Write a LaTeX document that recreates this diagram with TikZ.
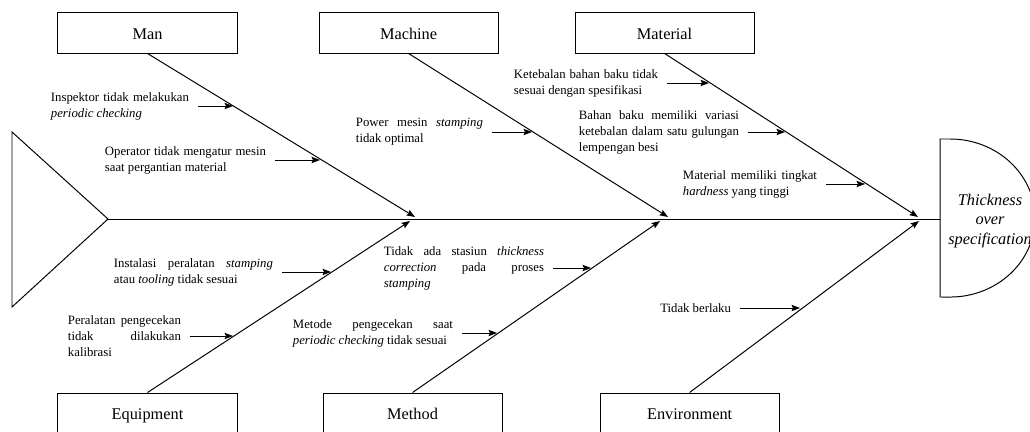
\documentclass[tikz,border=0pt]{standalone}
\usepackage{fontspec}
\setmainfont{Liberation Serif}
\usetikzlibrary{positioning, arrows.meta}

\begin{document}
\begin{tikzpicture}[
    x=0.025cm, y=-0.025cm,
    >={Stealth[length=6pt, width=4.5pt, inset=1pt]},
    line width=0.7pt,
    category/.style={
        draw,
        minimum width=4.475cm,
        minimum height=1cm,
        inner sep=0pt,
        text height=9.8pt,
        text depth=0.7pt,
        font=\fontsize{11.6}{14}\selectfont
    },
    cause/.style={
        align=justify,
        inner sep=0pt,
        outer sep=6.4pt,
        font=\fontsize{9.07}{11.4}\selectfont
    },
    effecttext/.style={
        align=center,
        font=\fontsize{11.6}{13.9}\selectfont\itshape
    }
]
\useasboundingbox (0,0) rectangle (1030,432);
\clip (0,0) rectangle (1030,432);

% categories
\node[category] (man) at (147.5,33) {Man};
\node[category, right=2.025cm of man] (machine) {Machine};
\node[category, right=1.9cm of machine] (material) {Material};
\node[category] (equipment) at (147.5,413) {Equipment};
\node[category, right=2.125cm of equipment] (method) {Method};
\node[category, right=2.425cm of method] (environment) {Environment};

% spine, tail and head
\coordinate (tail) at (108,219);
\coordinate (head) at (940,219);
\draw (12,132) -- (tail) -- (12,307) -- cycle;
\draw (tail) -- (head);
\draw (940,297) -- (940,139) -- (950,139)
    arc[start angle=90, end angle=-90, x radius=2.125cm, y radius=1.975cm] -- cycle;
\node[effecttext] (effect) at (990,221) {Thickness\\over\\specification};

% bones
\coordinate (manhit) at (415,217);
\coordinate (machinehit) at (668,217);
\coordinate (materialhit) at (918,217);
\coordinate (equipmenthit) at (410,221);
\coordinate (methodhit) at (660,221);
\coordinate (environmenthit) at (919,221);
\draw[->] (man.south) -- (manhit);
\draw[->] (machine.south) -- (machinehit);
\draw[->] (material.south) -- (materialhit);
\draw[->] (equipment.north) -- (equipmenthit);
\draw[->] (method.north) -- (methodhit);
\draw[->] (environment.north) -- (environmenthit);

% causes
\coordinate (man1e) at (233,106);
\coordinate (man2e) at (320,160);
\coordinate (mach1e) at (532,132);
\coordinate (mat1e) at (709,83);
\coordinate (mat2e) at (785,132);
\coordinate (mat3e) at (865,184);
\coordinate (equip1e) at (331,272);
\coordinate (equip2e) at (233,336);
\coordinate (meth1e) at (591,268);
\coordinate (meth2e) at (497,333);
\coordinate (env1e) at (800,308);

\node[cause, text width=3.45cm, left=0.875cm of man1e] (man1)
    {Inspektor tidak melakukan\linebreak \textit{periodic checking}};
\node[cause, text width=4.025cm, left=1.125cm of man2e] (man2)
    {Operator tidak mengatur mesin\linebreak saat pergantian material};
\node[cause, text width=3.175cm, left=1cm of mach1e] (mach1)
    {Power mesin \textit{stamping}\linebreak tidak optimal};
\node[cause, text width=3.6cm, left=1.05cm of mat1e] (mat1)
    {Ketebalan bahan baku tidak\linebreak sesuai dengan spesifikasi};
\node[cause, text width=4cm, left=0.925cm of mat2e] (mat2)
    {Bahan baku memiliki variasi\linebreak ketebalan dalam satu gulungan\linebreak lempengan besi};
\node[cause, text width=3.35cm, left=0.975cm of mat3e] (mat3)
    {Material memiliki tingkat\linebreak \textit{hardness} yang tinggi};
\node[cause, text width=3.975cm, left=1.225cm of equip1e] (equip1)
    {Instalasi peralatan \textit{stamping}\linebreak atau \textit{tooling} tidak sesuai};
\node[cause, text width=2.825cm, left=1.075cm of equip2e] (equip2)
    {Peralatan pengecekan\linebreak tidak dilakukan\linebreak kalibrasi};
\node[cause, text width=4cm, left=0.95cm of meth1e] (meth1)
    {Tidak ada stasiun \textit{thickness}\linebreak \textit{correction} pada proses\linebreak \textit{stamping}};
\node[cause, text width=4cm, left=0.875cm of meth2e] (meth2)
    {Metode pengecekan saat\linebreak \textit{periodic checking} tidak sesuai};
\node[cause, left=1.5cm of env1e] (env1) {Tidak berlaku};

\foreach \c in {man1, man2, mach1, mat1, mat2, mat3, equip1, equip2, meth1, meth2, env1}
    \draw[->] (\c) -- (\c e);
\end{tikzpicture}
\end{document}
